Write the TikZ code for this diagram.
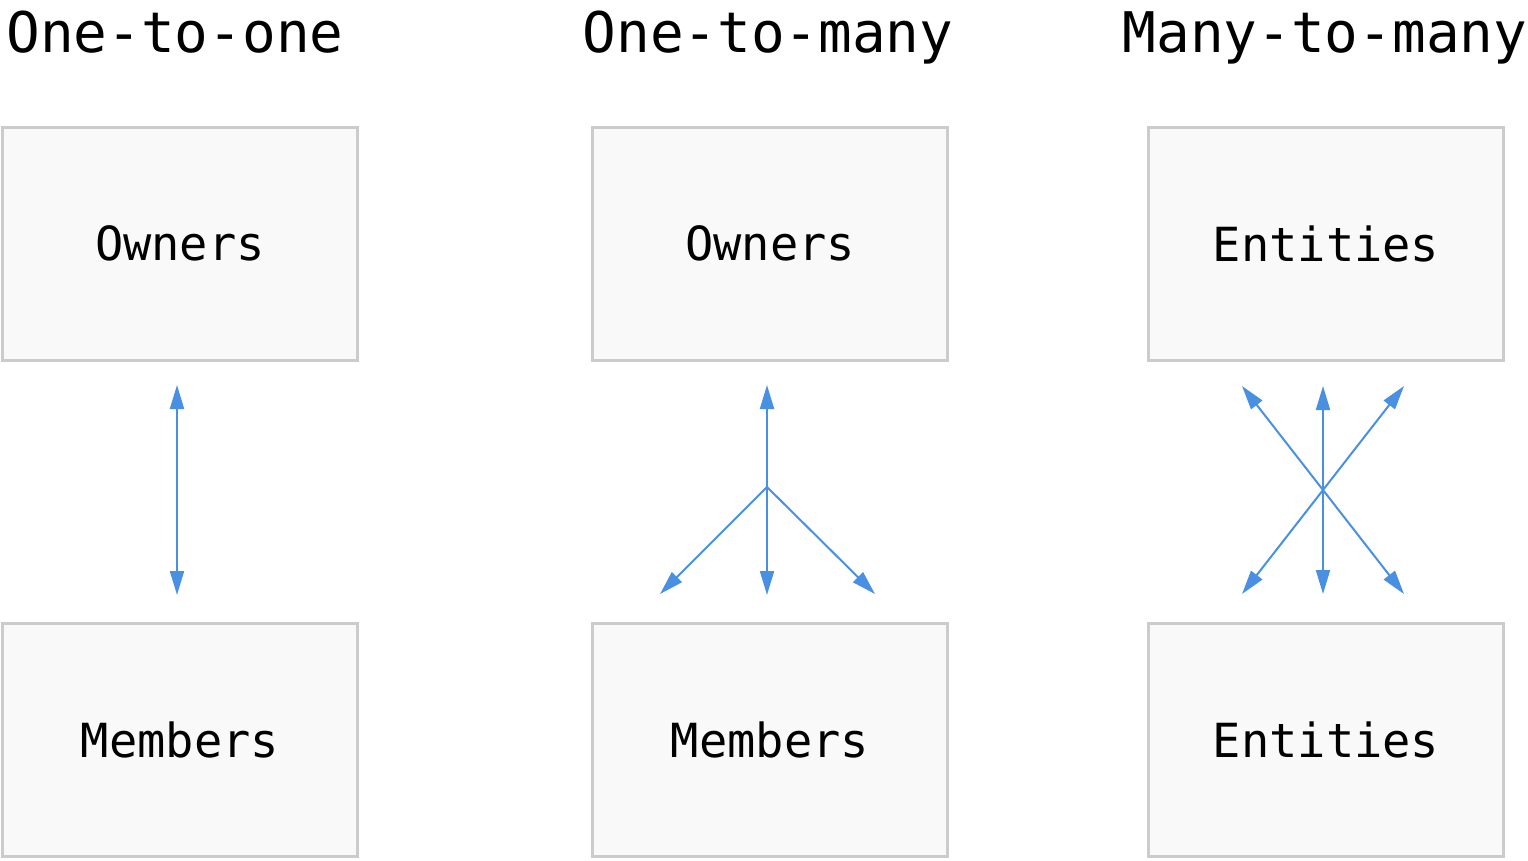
\documentclass[tikz,border=0pt]{standalone}
\usepackage{fontspec}
\setmonofont{DejaVu Sans Mono}
\usetikzlibrary{arrows.meta}
\definecolor{linkblue}{HTML}{4A90E2}
\definecolor{boxline}{HTML}{CCCCCC}
\definecolor{boxfill}{HTML}{F9F9F9}
\tikzset{
  table/.style={draw=boxline, fill=boxfill, line width=3pt, minimum width=355pt,
    minimum height=233pt, inner sep=0pt, text depth=0pt,
    font=\ttfamily\fontsize{47}{50}\selectfont},
  title/.style={anchor=base, inner sep=0pt, font=\ttfamily\fontsize{56}{60}\selectfont},
  link/.style={draw=linkblue, line width=2pt, >={Triangle[length=24pt,width=14pt]}}
}
\begin{document}
\begin{tikzpicture}[x=1pt,y=-1pt]
  \useasboundingbox (0,0) rectangle (1528,860);
  \node [title] (t1) at (175,52)  {One-to-one};
  \node [title] (t2) at (768,52)  {One-to-many};
  \node [title] (t3) at (1325,52) {Many-to-many};

  \node [table] (owners1)   at (180,243.5)  {Owners};
  \node [table] (members1)  at (180,739.5)  {Members};
  \node [table] (owners2)   at (770,243.5)  {Owners};
  \node [table] (members2)  at (770,739.5)  {Members};
  \node [table] (entities1) at (1326,243.5) {Entities};
  \node [table] (entities2) at (1326,739.5) {Entities};

  % one-to-one
  \coordinate (a1) at (177,385);
  \coordinate (b1) at (177,595);
  \draw [link,<->] (a1) -- (b1);

  % one-to-many
  \coordinate (hub2) at (767,487);
  \coordinate (a2) at (767,385);
  \coordinate (b2) at (660,594);
  \coordinate (c2) at (767,595);
  \coordinate (d2) at (875,594);
  \draw [link,->] (hub2) -- (a2);
  \draw [link,->] (hub2) -- (b2);
  \draw [link,->] (hub2) -- (c2);
  \draw [link,->] (hub2) -- (d2);

  % many-to-many
  \coordinate (hub3) at (1323,487);
  \coordinate (a3) at (1242,386);
  \coordinate (b3) at (1323,386);
  \coordinate (c3) at (1404,386);
  \coordinate (d3) at (1242,594);
  \coordinate (e3) at (1323,594);
  \coordinate (f3) at (1404,594);
  \draw [link,<->] (a3) -- (f3);
  \draw [link,<->] (b3) -- (e3);
  \draw [link,<->] (c3) -- (d3);
\end{tikzpicture}
\end{document}
